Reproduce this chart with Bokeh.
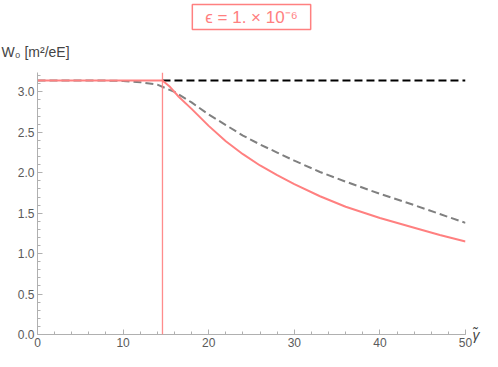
from bokeh.plotting import figure
from bokeh.models import (Range1d, FixedTicker, Span, Title, PrintfTickFormatter,
                          LinearAxis)
from bokeh.embed import file_html
from bokeh.resources import INLINE
import math

# Data
gamma_c = 14.6  # threshold (vertical line)
pi_val = math.pi

x_red = [0, 14.6, 15.5, 16.5, 18, 20, 22, 24, 26, 28, 30, 33, 36, 40, 44, 47, 50]
y_red = [pi_val, pi_val, 3.06, 2.94, 2.79, 2.58, 2.39, 2.23, 2.09, 1.97, 1.86,
         1.71, 1.58, 1.44, 1.32, 1.23, 1.15]

x_gray = [0, 8, 10, 12, 14, 16, 18, 20, 22, 24, 26, 28, 30, 33, 36, 40, 44, 47, 50]
y_gray = [pi_val, 3.14, 3.135, 3.12, 3.09, 3.00, 2.87, 2.72, 2.59, 2.46, 2.35,
          2.25, 2.15, 2.01, 1.89, 1.74, 1.60, 1.49, 1.38]

x_black = [14.6, 50]
y_black = [pi_val, pi_val]

x_major = [0, 10, 20, 30, 40, 50]
x_minor = [i for i in range(0, 51, 2)]
y_major = [0.0, 0.5, 1.0, 1.5, 2.0, 2.5, 3.0]
y_minor = [round(i * 0.1, 1) for i in range(0, 33)]

title_text = "ϵ = 1. × 10⁻⁶"
y_label = "W₀ [m²/eE]"
x_label = "γ̃"

RED = "#FF8080"
AXIS = "#b0b0b0"
TXT = "#5a5a5a"
LBL = "#444444"

p = figure(width=482, height=351, output_backend="svg", toolbar_location=None,
           x_range=Range1d(0, 50), y_range=Range1d(0, 3.24),
           min_border_left=37, min_border_right=14, min_border_top=72,
           min_border_bottom=17, title=None)
p.outline_line_color = None
p.grid.visible = False
p.background_fill_color = "white"
p.border_fill_color = "white"

# y-axis label as a left-aligned title just above the frame
p.add_layout(Title(text=y_label, align="left", offset=-36,
                   text_font="Liberation Sans", text_font_size="14px",
                   text_font_style="normal", text_color=LBL, standoff=25), "above")
# boxed title
p.add_layout(Title(text=title_text, align="center", offset=4, text_color=RED,
                   text_font="Liberation Sans", text_font_size="17px",
                   text_font_style="normal", border_line_color=RED,
                   border_line_width=1.5,
                   padding=dict(left=13, right=13, top=3, bottom=3),
                   standoff=0), "above")

for ax, maj, mnr in ((p.xaxis[0], x_major, x_minor), (p.yaxis[0], y_major, y_minor)):
    ax.ticker = FixedTicker(ticks=maj, minor_ticks=mnr)
    ax.axis_line_color = AXIS
    ax.major_tick_line_color = AXIS
    ax.minor_tick_line_color = AXIS
    ax.major_tick_in = 5
    ax.major_tick_out = 0
    ax.minor_tick_in = 3
    ax.minor_tick_out = 0
    ax.major_label_text_font = "Liberation Sans"
    ax.major_label_text_font_size = "12px"
    ax.major_label_text_color = TXT
    ax.major_label_standoff = 3
p.xaxis[0].formatter = PrintfTickFormatter(format="%d")
p.yaxis[0].formatter = PrintfTickFormatter(format="%.1f")

# x-axis variable name, placed at the level of the x axis on the right side
rax = LinearAxis(ticker=FixedTicker(ticks=[0], minor_ticks=[]),
                 major_label_overrides={0: x_label})
rax.axis_line_color = None
rax.major_tick_line_color = None
rax.minor_tick_line_color = None
rax.major_tick_in = 0
rax.major_tick_out = 0
rax.major_label_standoff = 7
rax.major_label_text_font = "Liberation Sans"
rax.major_label_text_font_size = "14px"
rax.major_label_text_font_style = "italic"
rax.major_label_text_color = LBL
p.add_layout(rax, "right")

p.add_layout(Span(location=gamma_c, dimension="height", line_color=RED,
                  line_width=1.3, line_alpha=0.9))

p.line(x_black, y_black, line_color="black", line_width=2, line_dash="8 4")
p.line(x_gray, y_gray, line_color="#808080", line_width=2, line_dash="8 4")
p.line(x_red, y_red, line_color=RED, line_width=2)

open("out.html", "w").write(file_html(p, INLINE))
